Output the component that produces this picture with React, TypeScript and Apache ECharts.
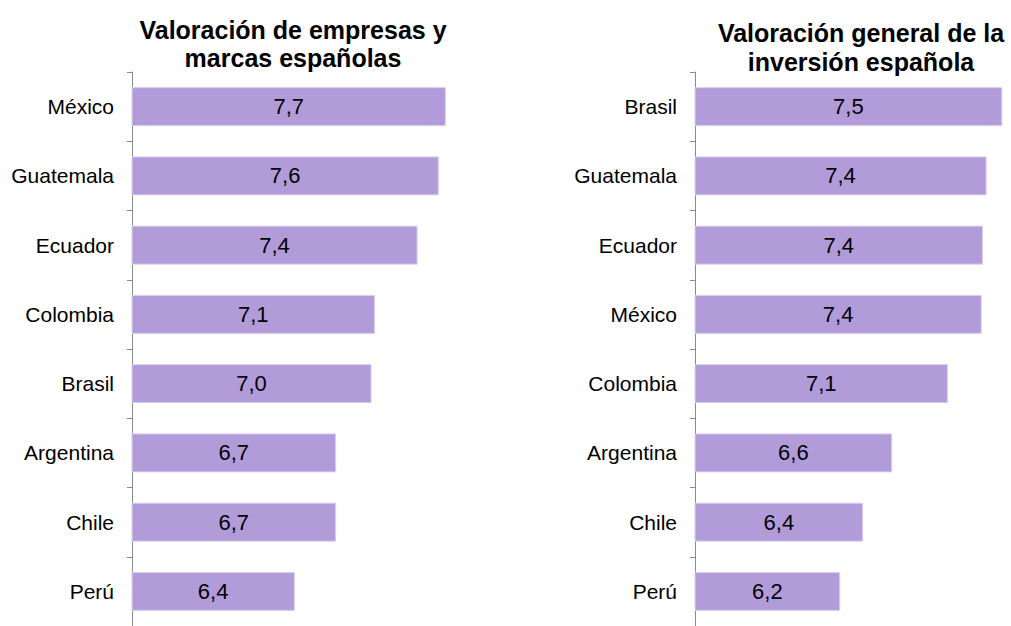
import React, { useEffect, useRef } from "react";
import * as echarts from "echarts";

const leftTitle = "Valoración de empresas y\nmarcas españolas";
const rightTitle = "Valoración general de la\ninversión española";

const leftCategories = ["México", "Guatemala", "Ecuador", "Colombia", "Brasil", "Argentina", "Chile", "Perú"];
const leftValues = [7.66, 7.6, 7.42, 7.06, 7.03, 6.73, 6.73, 6.38];

const rightCategories = ["Brasil", "Guatemala", "Ecuador", "México", "Colombia", "Argentina", "Chile", "Perú"];
const rightValues = [7.54, 7.41, 7.38, 7.37, 7.09, 6.63, 6.39, 6.2];

const FONT = "'Liberation Sans', Arial, sans-serif";
const BAR = "#b19cd9";

const fmt = (p: any) => Number(p.value).toFixed(1).replace(".", ",");

export default function App() {
  const ref = useRef<HTMLDivElement>(null);
  useEffect(() => {
    if (!ref.current) return;
    const chart = echarts.init(ref.current, undefined, { renderer: "svg" });
    const yAxisCommon = {
      type: "category" as const,
      inverse: true,
      axisLine: { show: true, lineStyle: { color: "#898989", width: 1 } },
      axisTick: { show: true, length: 5, lineStyle: { color: "#898989" } },
      axisLabel: { color: "#000", fontSize: 21, fontFamily: FONT, margin: 18 },
      splitLine: { show: false },
    };
    const xAxisCommon = {
      type: "value" as const,
      min: 5,
      show: false,
      splitLine: { show: false },
    };
    const seriesCommon = {
      type: "bar" as const,
      barWidth: 39,
      itemStyle: { color: BAR, borderColor: "#d9cff0", borderWidth: 1 },
      label: {
        show: true,
        position: "inside" as const,
        color: "#000",
        fontSize: 22,
        fontFamily: FONT,
        formatter: fmt,
      },
    };
    chart.setOption({
      animation: false,
      backgroundColor: "#fff",
      grid: [
        { left: 132, top: 72, width: 354, height: 554 },
        { left: 695, top: 72, width: 314.6, height: 554 },
      ],
      xAxis: [
        { ...xAxisCommon, gridIndex: 0, max: 8 },
        { ...xAxisCommon, gridIndex: 1, max: 7.6 },
      ],
      yAxis: [
        { ...yAxisCommon, gridIndex: 0, data: leftCategories },
        { ...yAxisCommon, gridIndex: 1, data: rightCategories },
      ],
      series: [
        { ...seriesCommon, xAxisIndex: 0, yAxisIndex: 0, data: leftValues },
        { ...seriesCommon, xAxisIndex: 1, yAxisIndex: 1, data: rightValues },
      ],
      graphic: [
        {
          type: "text",
          x: 293,
          y: 44,
          style: {
            text: leftTitle,
            fill: "#000",
            font: `bold 25px ${FONT}`,
            lineHeight: 28,
            textAlign: "center",
            textVerticalAlign: "middle",
          },
        },
        {
          type: "text",
          x: 861,
          y: 47,
          style: {
            text: rightTitle,
            fill: "#000",
            font: `bold 25px ${FONT}`,
            lineHeight: 29,
            textAlign: "center",
            textVerticalAlign: "middle",
          },
        },
      ],
    });
    return () => chart.dispose();
  }, []);
  return (
    <div
      ref={ref}
      style={{ position: "absolute", left: 0, top: 0, width: 1011, height: 626 }}
    />
  );
}
